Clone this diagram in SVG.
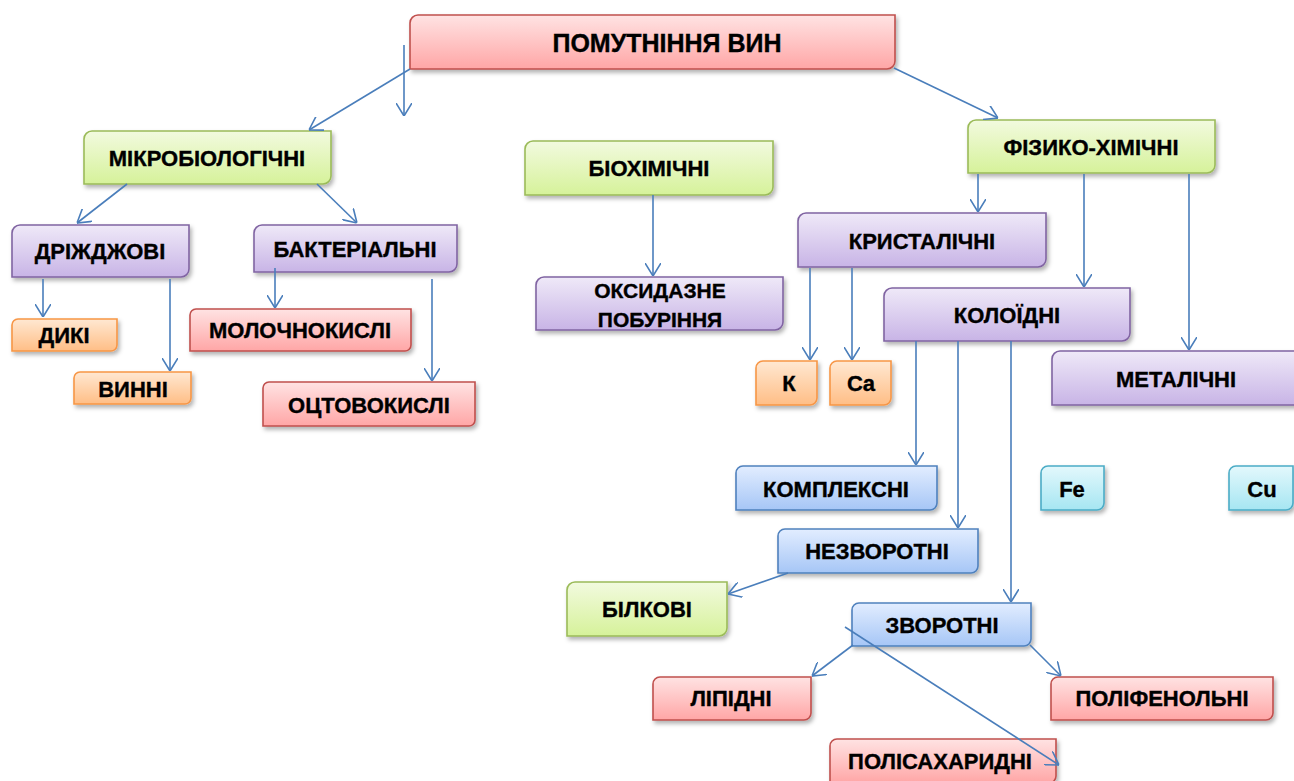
<svg xmlns="http://www.w3.org/2000/svg" width="1294" height="781" viewBox="0 0 1294 781">
<style>
text{font-family:"Liberation Sans","Open Sans",Arial,sans-serif;font-weight:bold;font-size:22px;fill:#000;stroke:#000;stroke-width:0.35;text-anchor:middle;dominant-baseline:central;}
.t{font-size:25px}
.s{font-size:21px}
.box{stroke-width:1.6;filter:url(#sh)}
.red{fill:url(#gRed);stroke:#C0504D}
.grn{fill:url(#gGrn);stroke:#9BBB59}
.pur{fill:url(#gPur);stroke:#8064A2}
.org{fill:url(#gOrg);stroke:#F79646}
.blu{fill:url(#gBlu);stroke:#4F81BD}
.cyn{fill:url(#gCyn);stroke:#4BACC6}
#connectors line{stroke:#4A7EBB;stroke-width:1.6;fill:none;marker-end:url(#arr)}
</style>
<defs>
<filter id="sh" x="-10%" y="-20%" width="125%" height="160%"><feDropShadow dx="2" dy="3" stdDeviation="2" flood-color="#000" flood-opacity="0.3"/></filter>
<linearGradient id="gRed" x1="0" y1="0" x2="0" y2="1"><stop offset="0" stop-color="#FFE3E3"/><stop offset="1" stop-color="#FFA6A6"/></linearGradient>
<linearGradient id="gGrn" x1="0" y1="0" x2="0" y2="1"><stop offset="0" stop-color="#F2FADF"/><stop offset="1" stop-color="#D6F29A"/></linearGradient>
<linearGradient id="gPur" x1="0" y1="0" x2="0" y2="1"><stop offset="0" stop-color="#EFE9F8"/><stop offset="1" stop-color="#C8B4E6"/></linearGradient>
<linearGradient id="gOrg" x1="0" y1="0" x2="0" y2="1"><stop offset="0" stop-color="#FFE8D2"/><stop offset="1" stop-color="#FFBE86"/></linearGradient>
<linearGradient id="gBlu" x1="0" y1="0" x2="0" y2="1"><stop offset="0" stop-color="#E2EDFF"/><stop offset="1" stop-color="#A6C6F6"/></linearGradient>
<linearGradient id="gCyn" x1="0" y1="0" x2="0" y2="1"><stop offset="0" stop-color="#E3F8FC"/><stop offset="1" stop-color="#A6E6F2"/></linearGradient>
<marker id="arr" viewBox="0 0 13 16" refX="13" refY="8" markerWidth="13" markerHeight="16" markerUnits="userSpaceOnUse" orient="auto"><path d="M0,0 L13,8 L0,16" fill="none" stroke="#4A7EBB" stroke-width="1.6"/></marker>
</defs>

<g id="n-pomutninnia"><path class="box red" d="M418,15 H895 V61 A8,8 0 0 1 887,69 H410 V23 A8,8 0 0 1 418,15 Z"/><text class="t" x="667" y="43">ПОМУТНІННЯ ВИН</text></g>
<g id="n-mikrobio"><path class="box grn" d="M92,131 H331 V176 A8,8 0 0 1 323,184 H84 V139 A8,8 0 0 1 92,131 Z"/><text x="207" y="158">МІКРОБІОЛОГІЧНІ</text></g>
<g id="n-biokhim"><path class="box grn" d="M533,141 H773 V187 A8,8 0 0 1 765,195 H525 V149 A8,8 0 0 1 533,141 Z"/><text x="649" y="168">БІОХІМІЧНІ</text></g>
<g id="n-fizkhim"><path class="box grn" d="M976,120 H1215 V165 A8,8 0 0 1 1207,173 H968 V128 A8,8 0 0 1 976,120 Z"/><text x="1091" y="147">ФІЗИКО-ХІМІЧНІ</text></g>
<g id="n-drizhdzh"><path class="box pur" d="M20,225 H189 V269 A8,8 0 0 1 181,277 H12 V233 A8,8 0 0 1 20,225 Z"/><text x="100" y="251">ДРІЖДЖОВІ</text></g>
<g id="n-bakter"><path class="box pur" d="M262,225 H457 V264 A8,8 0 0 1 449,272 H254 V233 A8,8 0 0 1 262,225 Z"/><text x="355" y="249">БАКТЕРІАЛЬНІ</text></g>
<g id="n-dyki"><path class="box org" d="M18,319 H117 V345 A6,6 0 0 1 111,351 H12 V325 A6,6 0 0 1 18,319 Z"/><text x="64" y="335">ДИКІ</text></g>
<g id="n-vynni"><path class="box org" d="M80,372 H191 V398 A6,6 0 0 1 185,404 H74 V378 A6,6 0 0 1 80,372 Z"/><text x="133" y="389">ВИННІ</text></g>
<g id="n-moloch"><path class="box red" d="M196,309 H411 V345 A6,6 0 0 1 405,351 H190 V315 A6,6 0 0 1 196,309 Z"/><text x="300" y="330">МОЛОЧНОКИСЛІ</text></g>
<g id="n-otstovo"><path class="box red" d="M269,382 H475 V420 A6,6 0 0 1 469,426 H263 V388 A6,6 0 0 1 269,382 Z"/><text x="369" y="405">ОЦТОВОКИСЛІ</text></g>
<g id="n-oksydazne"><path class="box pur" d="M544,277 H783 V322 A8,8 0 0 1 775,330 H536 V285 A8,8 0 0 1 544,277 Z"/><text class="s" x="660" y="290">ОКСИДАЗНЕ</text><text class="s" x="660" y="319">ПОБУРІННЯ</text></g>
<g id="n-kryst"><path class="box pur" d="M806,213 H1046 V259 A8,8 0 0 1 1038,267 H798 V221 A8,8 0 0 1 806,213 Z"/><text x="922" y="241">КРИСТАЛІЧНІ</text></g>
<g id="n-koloid"><path class="box pur" d="M892,288 H1130 V333 A8,8 0 0 1 1122,341 H884 V296 A8,8 0 0 1 892,288 Z"/><text x="1007" y="315">КОЛОЇДНІ</text></g>
<g id="n-k"><path class="box org" d="M763,361 H817 V398 A7,7 0 0 1 810,405 H756 V368 A7,7 0 0 1 763,361 Z"/><text x="789" y="383">К</text></g>
<g id="n-ca"><path class="box org" d="M837,361 H891 V398 A7,7 0 0 1 884,405 H830 V368 A7,7 0 0 1 837,361 Z"/><text x="861" y="383">Ca</text></g>
<g id="n-metal"><path class="box pur" d="M1060,351 H1302 V397 A8,8 0 0 1 1294,405 H1052 V359 A8,8 0 0 1 1060,351 Z"/><text x="1176" y="379">МЕТАЛІЧНІ</text></g>
<g id="n-kompl"><path class="box blu" d="M743,466 H937 V503 A7,7 0 0 1 930,510 H736 V473 A7,7 0 0 1 743,466 Z"/><text x="836" y="489">КОМПЛЕКСНІ</text></g>
<g id="n-fe"><path class="box cyn" d="M1048,466 H1104 V503 A7,7 0 0 1 1097,510 H1041 V473 A7,7 0 0 1 1048,466 Z"/><text x="1072" y="489">Fe</text></g>
<g id="n-cu"><path class="box cyn" d="M1236,466 H1293 V503 A7,7 0 0 1 1286,510 H1229 V473 A7,7 0 0 1 1236,466 Z"/><text x="1262" y="489">Cu</text></g>
<g id="n-nezvor"><path class="box blu" d="M785,529 H978 V566 A7,7 0 0 1 971,573 H778 V536 A7,7 0 0 1 785,529 Z"/><text x="877" y="551">НЕЗВОРОТНІ</text></g>
<g id="n-bilkovi"><path class="box grn" d="M575,582 H727 V628 A8,8 0 0 1 719,636 H567 V590 A8,8 0 0 1 575,582 Z"/><text x="647" y="609">БІЛКОВІ</text></g>
<g id="n-zvor"><path class="box blu" d="M859,603 H1031 V639 A7,7 0 0 1 1024,646 H852 V610 A7,7 0 0 1 859,603 Z"/><text x="942" y="625">ЗВОРОТНІ</text></g>
<g id="n-lipidni"><path class="box red" d="M660,677 H811 V713 A7,7 0 0 1 804,720 H653 V684 A7,7 0 0 1 660,677 Z"/><text x="731" y="698">ЛІПІДНІ</text></g>
<g id="n-polifen"><path class="box red" d="M1058,677 H1273 V713 A7,7 0 0 1 1266,720 H1051 V684 A7,7 0 0 1 1058,677 Z"/><text x="1162" y="698">ПОЛІФЕНОЛЬНІ</text></g>
<g id="n-polisakh"><path class="box red" d="M837,739 H1056 V776 A7,7 0 0 1 1049,783 H830 V746 A7,7 0 0 1 837,739 Z"/><text x="940" y="761">ПОЛІСАХАРИДНІ</text></g>

<g id="connectors">
<line x1="410" y1="69" x2="309" y2="130"/>
<line x1="404" y1="45" x2="404" y2="116"/>
<line x1="894" y1="68" x2="998" y2="118"/>
<line x1="127" y1="184" x2="77" y2="223"/>
<line x1="317" y1="184" x2="357" y2="223"/>
<line x1="43" y1="279" x2="43" y2="317"/>
<line x1="170" y1="279" x2="170" y2="371"/>
<line x1="275" y1="268" x2="275" y2="308"/>
<line x1="432" y1="279" x2="432" y2="381"/>
<line x1="653" y1="195" x2="653" y2="276"/>
<line x1="978" y1="174" x2="978" y2="212"/>
<line x1="1084" y1="174" x2="1084" y2="287"/>
<line x1="1189" y1="174" x2="1189" y2="350"/>
<line x1="810" y1="268" x2="810" y2="360"/>
<line x1="852" y1="268" x2="852" y2="360"/>
<line x1="916" y1="341" x2="916" y2="465"/>
<line x1="958" y1="341" x2="958" y2="528"/>
<line x1="1011" y1="341" x2="1011" y2="602"/>
<line x1="788" y1="573" x2="728" y2="594"/>
<line x1="853" y1="645" x2="812" y2="676"/>
<line x1="1030" y1="645" x2="1061" y2="676"/>
<line x1="845" y1="627" x2="1059" y2="765"/>
</g>
</svg>
